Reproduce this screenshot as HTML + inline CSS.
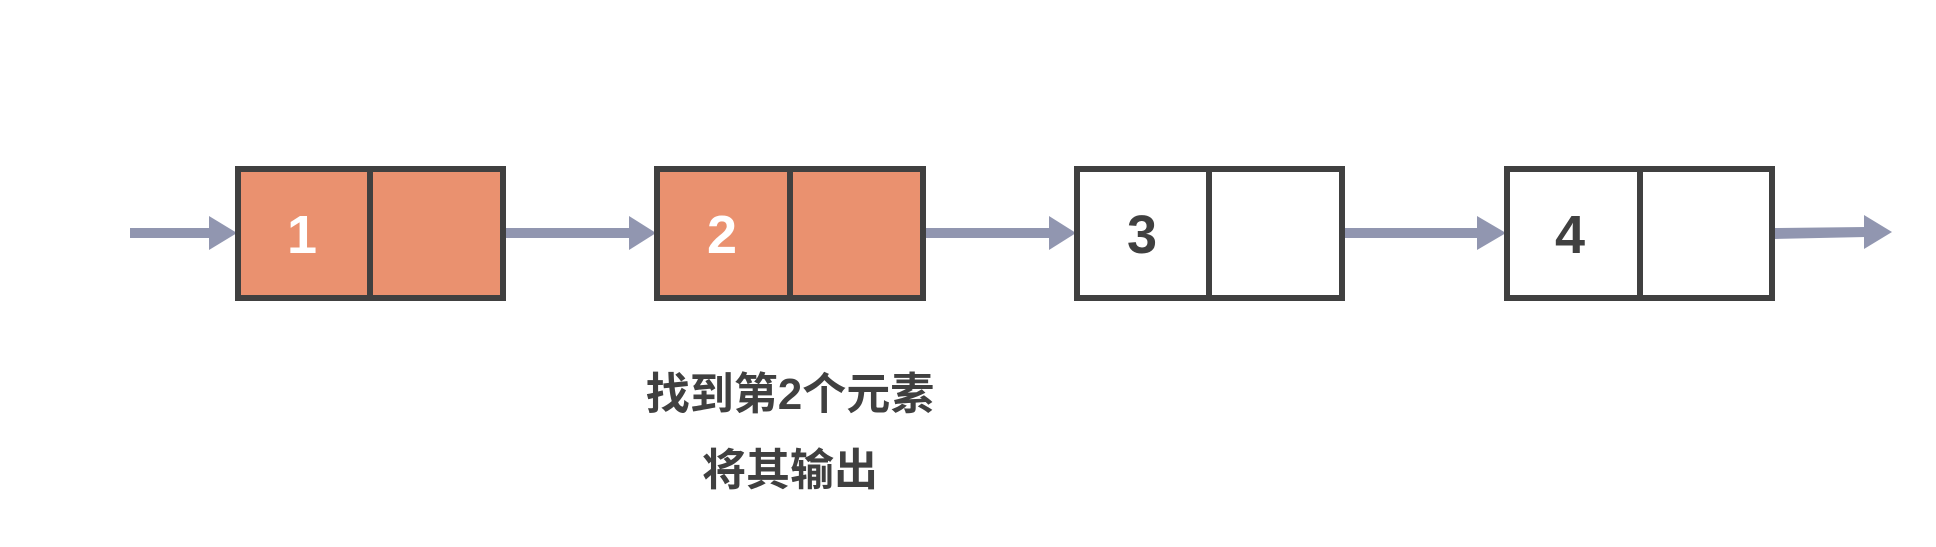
<!DOCTYPE html>
<html><head><meta charset="utf-8"><style>
html,body{margin:0;padding:0;background:#fff;}
</style></head><body>
<svg width="1936" height="542" xmlns="http://www.w3.org/2000/svg">
<g fill="#9196b0">
<rect x="130" y="228" width="81" height="10"/><polygon points="209,216 237,233 209,250"/>
<rect x="506" y="228" width="125" height="10"/><polygon points="629,216 656,233 629,250"/>
<rect x="926" y="228" width="125" height="10"/><polygon points="1049,216 1076,233 1049,250"/>
<rect x="1345" y="228" width="134" height="10"/><polygon points="1477,216 1506,233 1477,250"/>
<polygon points="1775,228 1866,227 1866,237 1775,239"/><polygon points="1864,215 1892,232 1864,249"/>
</g>
<g stroke="#404040" stroke-width="6">
<rect x="238" y="169" width="265" height="129" fill="#ea916f"/><line x1="370" y1="168" x2="370" y2="300"/>
<rect x="657" y="169" width="266" height="129" fill="#ea916f"/><line x1="790" y1="168" x2="790" y2="300"/>
<rect x="1077" y="169" width="265" height="129" fill="#fff"/><line x1="1209" y1="168" x2="1209" y2="300"/>
<rect x="1507" y="169" width="265" height="129" fill="#fff"/><line x1="1640" y1="168" x2="1640" y2="300"/>
</g>
<g font-family="Liberation Sans, sans-serif" font-weight="bold" font-size="54" text-anchor="middle">
<text x="302" y="253" fill="#fff">1</text>
<text x="722" y="253" fill="#fff">2</text>
<text x="1142" y="253" fill="#404040">3</text>
<text x="1570" y="253" fill="#404040">4</text>
</g>
<g font-family="Liberation Sans, Noto Sans CJK SC, sans-serif" font-weight="bold" font-size="44" fill="#404040" text-anchor="middle">
<text x="790" y="409">找到第2个元素</text>
<text x="790" y="485">将其输出</text>
</g>
</svg>
</body></html>
